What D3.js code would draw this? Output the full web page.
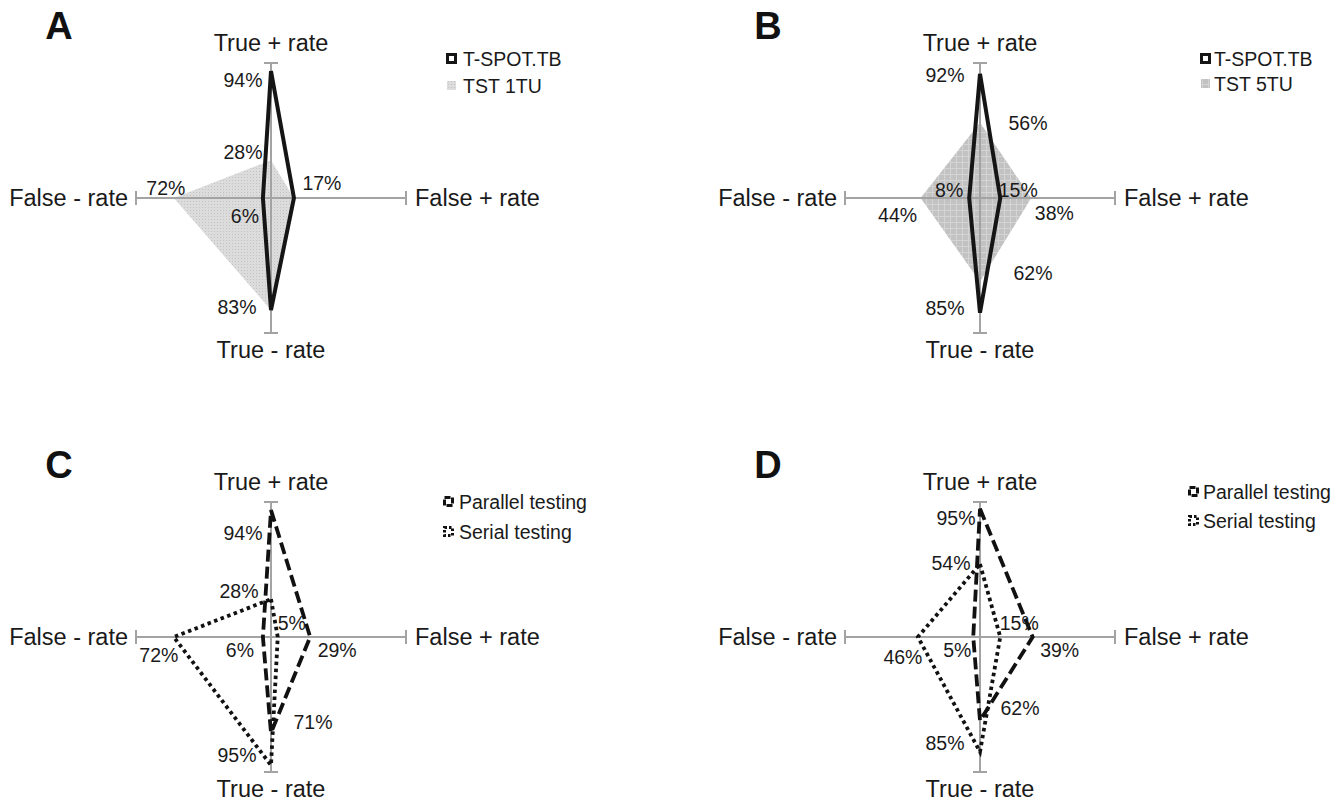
<!DOCTYPE html>
<html><head><meta charset="utf-8">
<script src="https://cdn.jsdelivr.net/npm/d3@7"></script>
<style>body{margin:0;background:#fff} svg{display:block}</style>
</head><body><svg id="c" width="1339" height="802"></svg>
<script>
// ---- data ----
const axisNames = ["True + rate", "False + rate", "True - rate", "False - rate"];
const tspotA    = [94, 17, 83, 6];
const tst1A     = [28, 17, 83, 72];
const tspotB    = [92, 15, 85, 8];
const tst5B     = [56, 38, 62, 44];
const parallelC = [94, 29, 71, 6];
const serialC   = [28, 5, 95, 72];
const parallelD = [95, 39, 62, 5];
const serialD   = [54, 15, 85, 46];
const panelLetters = ["A", "B", "C", "D"];
const legendNamesAB = [["T-SPOT.TB", "TST 1TU"], ["T-SPOT.TB", "TST 5TU"]];
const legendNamesCD = ["Parallel testing", "Serial testing"];

// ---- layout / styles ----
const R = 135;
const rScale = d3.scaleLinear().domain([0, 100]).range([0, R]);
const angle = i => i * Math.PI / 2;

const svg = d3.select("#c");
const defs = svg.append("defs");
// stippled light-gray texture (TST 1TU)
const p1 = defs.append("pattern").attr("id", "pat1").attr("width", 3).attr("height", 3).attr("patternUnits", "userSpaceOnUse");
p1.append("rect").attr("width", 3).attr("height", 3).attr("fill", "#dcdcdc");
p1.append("rect").attr("width", 1).attr("height", 1).attr("fill", "#c2c2c2");
// grid texture (TST 5TU)
const p2 = defs.append("pattern").attr("id", "pat2").attr("width", 6).attr("height", 6).attr("patternUnits", "userSpaceOnUse");
p2.append("rect").attr("width", 6).attr("height", 6).attr("fill", "#c2c2c2");
p2.append("rect").attr("width", 6).attr("height", 1).attr("fill", "#d4d4d4");
p2.append("rect").attr("width", 1).attr("height", 6).attr("fill", "#d4d4d4");

const styles = {
  solid:  {stroke: "#151515", width: 4, dash: null, fill: "none"},
  fill1:  {stroke: "none", width: 0, dash: null, fill: "url(#pat1)"},
  fill2:  {stroke: "none", width: 0, dash: null, fill: "url(#pat2)"},
  dashed: {stroke: "#111", width: 3.8, dash: "12,5", fill: "none"},
  dotted: {stroke: "#111", width: 3.8, dash: "3.5,3.5", fill: "none"}
};

const panels = [
  {cx: 271, cy: 198,
   series: [{values: tst1A, style: "fill1"}, {values: tspotA, style: "solid"}],
   legend: [{name: legendNamesAB[0][0], style: "solid"}, {name: legendNamesAB[0][1], style: "fill1"}],
   legendPos: {x: 175, text: 192, rows: [-139, -112]},
   labels: [{s: 1, a: 0, dx: -28, dy: 9}, {s: 0, a: 0, dx: -28, dy: -8}, {s: 1, a: 1, dx: 28, dy: -15},
            {s: 0, a: 3, dx: -8, dy: -10}, {s: 1, a: 3, dx: -18, dy: 18}, {s: 1, a: 2, dx: -34, dy: -3}]},
  {cx: 980, cy: 198,
   series: [{values: tst5B, style: "fill2"}, {values: tspotB, style: "solid"}],
   legend: [{name: legendNamesAB[1][0], style: "solid"}, {name: legendNamesAB[1][1], style: "fill2"}],
   legendPos: {x: 220, text: 234, rows: [-139, -114]},
   labels: [{s: 1, a: 0, dx: -35, dy: 1}, {s: 0, a: 0, dx: 48, dy: 1}, {s: 1, a: 3, dx: -20, dy: -8},
            {s: 1, a: 1, dx: 18, dy: -8}, {s: 0, a: 3, dx: -23, dy: 17}, {s: 0, a: 1, dx: 23, dy: 15},
            {s: 0, a: 2, dx: 53, dy: -9}, {s: 1, a: 2, dx: -35, dy: -5}]},
  {cx: 271, cy: 637,
   series: [{values: parallelC, style: "dashed"}, {values: serialC, style: "dotted"}],
   legend: [{name: legendNamesCD[0], style: "dashed"}, {name: legendNamesCD[1], style: "dotted"}],
   legendPos: {x: 172, text: 188, rows: [-135, -105]},
   labels: [{s: 0, a: 0, dx: -28, dy: 23}, {s: 1, a: 0, dx: -32, dy: -8}, {s: 1, a: 1, dx: 14, dy: -14},
            {s: 1, a: 3, dx: -15, dy: 18}, {s: 0, a: 3, dx: -23, dy: 13}, {s: 0, a: 1, dx: 27, dy: 13},
            {s: 0, a: 2, dx: 42, dy: -11}, {s: 1, a: 2, dx: -34, dy: -10}]},
  {cx: 980, cy: 637,
   series: [{values: parallelD, style: "dashed"}, {values: serialD, style: "dotted"}],
   legend: [{name: legendNamesCD[0], style: "dashed"}, {name: legendNamesCD[1], style: "dotted"}],
   legendPos: {x: 208, text: 223, rows: [-145, -116]},
   labels: [{s: 0, a: 0, dx: -24, dy: 9}, {s: 1, a: 0, dx: -29, dy: -1}, {s: 1, a: 1, dx: 19, dy: -14},
            {s: 0, a: 3, dx: -16, dy: 13}, {s: 1, a: 3, dx: -15, dy: 20}, {s: 0, a: 1, dx: 27, dy: 13},
            {s: 0, a: 2, dx: 40, dy: -13}, {s: 1, a: 2, dx: -35, dy: -9}]}
];

const FONT = "Liberation Sans, Arial, sans-serif";
const radial = d3.lineRadial().angle((d, i) => angle(i)).radius(d => rScale(d)).curve(d3.curveLinearClosed);
const pt = (v, i) => [rScale(v) * Math.sin(angle(i)), -rScale(v) * Math.cos(angle(i))];

panels.forEach((p, pi) => {
  const g = svg.append("g").attr("transform", `translate(${p.cx},${p.cy})`);

  // filled series first
  p.series.filter(s => styles[s.style].fill !== "none").forEach(s => {
    g.append("path").attr("d", radial(s.values)).attr("fill", styles[s.style].fill).attr("stroke", "none");
  });

  // axes
  const ax = g.append("g").attr("stroke", "#a3a3a3").attr("stroke-width", 2);
  axisNames.forEach((n, i) => {
    const [x, y] = pt(100, i);
    ax.append("line").attr("x1", 0).attr("y1", 0).attr("x2", x).attr("y2", y);
    const px = Math.cos(angle(i)) * 7, py = Math.sin(angle(i)) * 7;
    ax.append("line").attr("x1", x - px).attr("y1", y - py).attr("x2", x + px).attr("y2", y + py);
  });

  // line series
  p.series.filter(s => styles[s.style].fill === "none").forEach(s => {
    const st = styles[s.style];
    g.append("path").attr("d", radial(s.values)).attr("fill", "none")
      .attr("stroke", st.stroke).attr("stroke-width", st.width)
      .attr("stroke-dasharray", st.dash).attr("stroke-linejoin", "miter");
  });

  // axis labels
  const al = g.append("g").attr("font-family", FONT).attr("font-size", 23.5).attr("fill", "#1a1a1a");
  al.append("text").attr("x", 0).attr("y", -155).attr("dy", "0.35em").attr("text-anchor", "middle").text(axisNames[0]);
  al.append("text").attr("x", 144).attr("y", 0).attr("dy", "0.35em").attr("text-anchor", "start").text(axisNames[1]);
  al.append("text").attr("x", 0).attr("y", 152).attr("dy", "0.35em").attr("text-anchor", "middle").text(axisNames[2]);
  al.append("text").attr("x", -143).attr("y", 0).attr("dy", "0.35em").attr("text-anchor", "end").text(axisNames[3]);

  // data labels
  const dl = g.append("g").attr("font-family", FONT).attr("font-size", 19.5).attr("fill", "#1a1a1a");
  p.labels.forEach(l => {
    const v = p.series[l.s].values[l.a];
    const [x, y] = pt(v, l.a);
    dl.append("text").attr("x", x + l.dx).attr("y", y + l.dy).attr("dy", "0.35em")
      .attr("text-anchor", "middle").text(v + "%");
  });

  // panel letter
  g.append("text").attr("x", -212).attr("y", -172).attr("dy", "0.35em").attr("text-anchor", "middle")
    .attr("font-family", FONT).attr("font-weight", "bold").attr("font-size", 38).attr("fill", "#111")
    .text(panelLetters[pi]);

  // legend
  const lg = g.append("g");
  p.legend.forEach((e, k) => {
    const y = p.legendPos.rows[k];
    const st = styles[e.style];
    if (st.fill === "none") {
      lg.append("rect").attr("x", p.legendPos.x + 1.5).attr("y", y - 4.5).attr("width", 8).attr("height", 8)
        .attr("fill", "#fff").attr("stroke", st.stroke).attr("stroke-width", 3)
        .attr("stroke-dasharray", e.style === "dashed" ? "6,2" : (e.style === "dotted" ? "2.5,2" : null));
    } else {
      lg.append("rect").attr("x", p.legendPos.x + 1).attr("y", y - 5).attr("width", 9).attr("height", 9)
        .attr("fill", st.fill);
    }
    lg.append("text").attr("x", p.legendPos.text).attr("y", y).attr("dy", "0.35em")
      .attr("font-family", FONT).attr("font-size", 19.5).attr("fill", "#1a1a1a").text(e.name);
  });
});
</script></body></html>
